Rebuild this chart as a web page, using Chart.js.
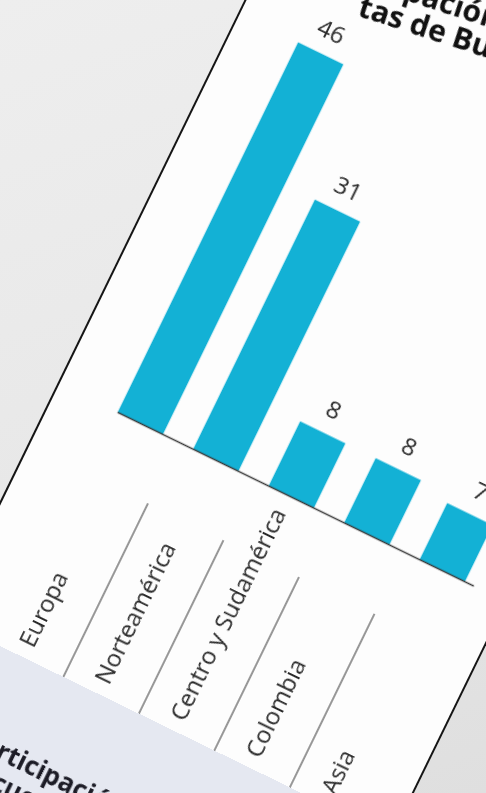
<!DOCTYPE html>
<html lang="es">
<head>
  <meta charset="UTF-8">
  <script src="https://cdn.jsdelivr.net/npm/chart.js"></script>
  <title>Participación por región</title>
  <style>
    body {
      margin: 0;
      width: 486px;
      height: 793px;
      overflow: hidden;
      position: relative;
      background: linear-gradient(160deg, #eeeeee 0%, #e7e7e7 60%, #dfdfdf 100%);
      font-family: "Open Sans", sans-serif;
    }
    .hoja {
      position: absolute;
      left: 51px;
      top: -148px;
      width: 500px;
      height: 980px;
      box-sizing: border-box;
      background: #fdfdfd;
      border-left: 2px solid #151515;
      border-right: 2px solid #151515;
      transform-origin: 67px 560px;
      transform: rotate(26deg);
    }
    .hoja canvas {
      position: absolute;
      left: -2px;
      top: 0;
    }
    .titulo {
      position: absolute;
      font-size: 30px;
      font-weight: bold;
      line-height: 38px;
      color: #111;
      white-space: nowrap;
      transform-origin: 0 50%;
      transform: rotate(-8deg);
    }
    .linea1 { left: 41px; top: 48px; }
    .linea2 { left: 104px; top: 69px; }
    .otra-hoja {
      position: absolute;
      left: -100px;
      top: 822px;
      width: 580px;
      height: 300px;
      background: #e5e8f1;
    }
    .otra-hoja div {
      position: absolute;
      left: 173px;
      top: 78px;
      font-size: 26px;
      font-weight: bold;
      line-height: 30px;
      color: #1c1c26;
      white-space: nowrap;
    }
  </style>
</head>
<body>
  <div class="hoja">
    <canvas id="grafico" width="500" height="860"></canvas>
    <div class="titulo linea1">Participación de turis-</div>
    <div class="titulo linea2">tas de Bucaramanga</div>
    <div class="otra-hoja">
      <div>Participación<br>Frecuencia</div>
    </div>
  </div>

  <script>
    const categorias = ["Europa", "Norteamérica", "Centro y Sudamérica", "Colombia", "Asia"];
    const valores = [46, 31, 8, 8, 7];

    // etiquetas de valor, nombres girados y separadores
    const etiquetas = {
      id: "etiquetas",
      afterDatasetsDraw(chart) {
        const ctx = chart.ctx;
        const barras = chart.getDatasetMeta(0).data;
        const base = chart.scales.y.getPixelForValue(0);
        const primera = barras[0];
        const ultima = barras[barras.length - 1];

        ctx.save();
        ctx.strokeStyle = "#3a3a3a";
        ctx.lineWidth = 1.5;
        ctx.beginPath();
        ctx.moveTo(primera.x - primera.width / 2, base + 0.5);
        ctx.lineTo(ultima.x + ultima.width / 2 + 10, base + 0.5);
        ctx.stroke();

        ctx.font = '24px "Open Sans"';
        ctx.fillStyle = "#2a2a2a";
        ctx.textAlign = "center";
        ctx.textBaseline = "alphabetic";
        for (let i = 0; i < barras.length; i++) {
          ctx.fillText(valores[i], barras[i].x, barras[i].y - 16);
        }

        for (let i = 0; i < barras.length; i++) {
          ctx.save();
          ctx.translate(barras[i].x - 4, base + 250);
          ctx.rotate(-Math.PI / 2);
          ctx.textAlign = "left";
          ctx.textBaseline = "middle";
          ctx.fillText(categorias[i], 0, 0);
          ctx.restore();
        }

        ctx.strokeStyle = "#333";
        ctx.lineWidth = 1;
        for (let i = 0; i < barras.length - 1; i++) {
          const x = (barras[i].x + barras[i + 1].x) / 2;
          ctx.beginPath();
          ctx.moveTo(x, base + 69);
          ctx.lineTo(x, base + 290);
          ctx.stroke();
        }
        ctx.restore();
      }
    };

    const ctx = document.getElementById("grafico").getContext("2d");
    new Chart(ctx, {
      type: "bar",
      data: {
        labels: categorias,
        datasets: [{
          data: valores,
          backgroundColor: "#13b1d5",
          borderWidth: 0,
          barPercentage: 0.6,
          categoryPercentage: 1
        }]
      },
      options: {
        responsive: false,
        animation: false,
        layout: {
          padding: { left: 50, right: 30, top: 113, bottom: 300 }
        },
        plugins: {
          legend: { display: false },
          tooltip: { enabled: false }
        },
        scales: {
          x: { display: false },
          y: { display: false, min: 0, max: 50 }
        }
      },
      plugins: [etiquetas]
    });
  </script>
</body>
</html>
